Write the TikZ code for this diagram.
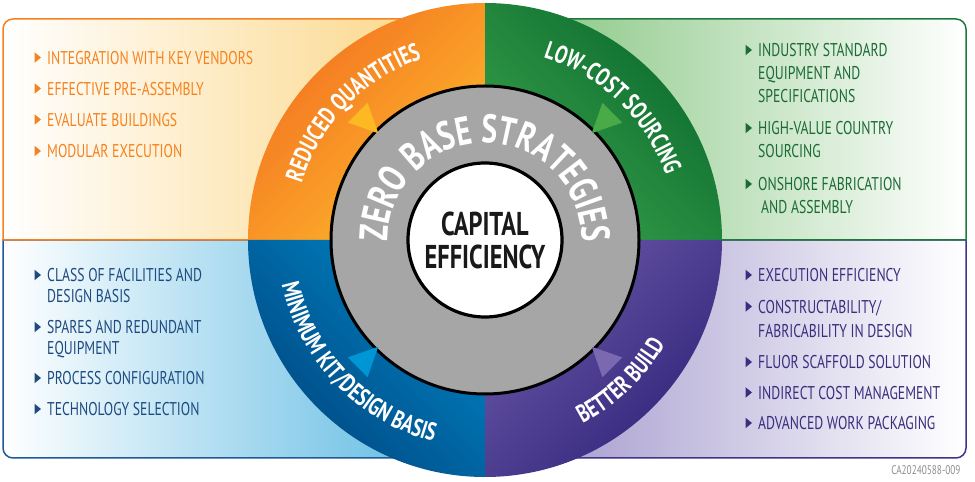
\documentclass[tikz,border=0pt]{standalone}
\usepackage{fontspec}
\setmainfont{PT Sans}[FakeStretch=0.74]
\usepackage{tikz}
\usetikzlibrary{decorations.text}

\definecolor{orangeline}{HTML}{F58220}
\definecolor{orangefill}{HTML}{FBD27A}
\definecolor{greenline}{HTML}{1E7A3C}
\definecolor{greentext}{HTML}{1B6B35}
\definecolor{greenfill}{HTML}{7DC177}
\definecolor{blueline}{HTML}{1F5A97}
\definecolor{bluetext}{HTML}{1D4A80}
\definecolor{bluefill}{HTML}{50B4E0}
\definecolor{purpleline}{HTML}{3F3488}
\definecolor{purpletext}{HTML}{3A2E7E}
\definecolor{purplefill}{HTML}{9A8FC8}
\definecolor{ringgray}{HTML}{A6A6A6}
\definecolor{triyellow}{HTML}{FDB924}
\definecolor{trigreen}{HTML}{4AAA47}
\definecolor{triblue}{HTML}{0096D6}
\definecolor{tripurple}{HTML}{7A68B1}

\newcommand{\listfont}[1]{\fontsize{18.5}{#1}\selectfont}
\newcommand{\ringfont}{\fontsize{25}{28}\selectfont\bfseries}

\begin{document}
\begin{tikzpicture}[
    x=1pt, y=1pt,
    box/.style={line width=1.5pt},
    list node/.style={anchor=north west, inner sep=0pt, align=left},
    ring text/.style={decorate, decoration={text along path, text align=center, text color=white, text={|\ringfont|#1}}}
]
    \useasboundingbox (0,0) rectangle (975,482);
    \coordinate (C) at (485,242);

    % Boxes
    \draw[box, draw=blueline, left color=white, right color=bluefill] (485,242) -- (3,242) -- (3,34) arc[start angle=180, end angle=270, radius=10] -- (485,24) -- cycle;
    \draw[box, draw=purpleline, left color=purplefill, right color=white] (485,242) -- (966,242) -- (966,34) arc[start angle=0, end angle=-90, radius=10] -- (485,24) -- cycle;
    \draw[box, draw=orangeline, left color=white, right color=orangefill] (485,242) -- (3,242) -- (3,453) arc[start angle=180, end angle=90, radius=10] -- (485,463) -- cycle;
    \draw[box, draw=greenline, left color=greenfill, right color=white] (485,242) -- (966,242) -- (966,453) arc[start angle=0, end angle=90, radius=10] -- (485,463) -- cycle;

    % Ring quarters
    \shade[top color={rgb,255:red,243;green,112;blue,33}, bottom color={rgb,255:red,253;green,185;blue,43}, shading angle=45] (C) -- ++(90:237) arc[start angle=90, end angle=180, radius=237] -- cycle;
    \shade[top color={rgb,255:red,11;green,106;blue,46}, bottom color={rgb,255:red,55;green,160;blue,74}, shading angle=-45] (C) -- ++(0:237) arc[start angle=0, end angle=90, radius=237] -- cycle;
    \shade[top color={rgb,255:red,0;green,131;blue,196}, bottom color={rgb,255:red,0;green,70;blue,127}, shading angle=-45] (C) -- ++(180:237) arc[start angle=180, end angle=270, radius=237] -- cycle;
    \shade[top color={rgb,255:red,107;green,88;blue,167}, bottom color={rgb,255:red,47;green,35;blue,121}, shading angle=45] (C) -- ++(270:237) arc[start angle=270, end angle=360, radius=237] -- cycle;

    % Discs
    \draw[line width=3pt, fill=ringgray] (C) circle[radius=154];
    \draw[line width=3.2pt, fill=white] (C) circle[radius=77];

    % Arrow heads
    \foreach \a/\c in {135/triyellow, 45/trigreen, 225/triblue, 315/tripurple}
        \fill[\c, shift={(C)}, rotate=\a] (151,0) -- (180,14) -- (180,-14) -- cycle;

    % Ring labels
    \path[ring text={REDUCED QUANTITIES}] ([shift={(176:192)}]C) arc[start angle=176, end angle=96, radius=192];
    \path[ring text={LOW-COST SOURCING}] ([shift={(86:192)}]C) arc[start angle=86, end angle=6, radius=192];
    \path[ring text={MINIMUM KIT/DESIGN BASIS}] ([shift={(184:208)}]C) arc[start angle=184, end angle=264, radius=208];
    \path[ring text={BETTER BUILD}] ([shift={(274:208)}]C) arc[start angle=274, end angle=354, radius=208];
    \path[decorate, decoration={text along path, text align=center, text color=white, text={|\fontsize{40}{42}\selectfont\bfseries|ZERO BASE STRATEGIES}}] ([shift={(192:97)}]C) arc[start angle=192, end angle=-12, radius=97];

    \node[font=\fontsize{33}{33}\selectfont\bfseries, align=center, text=black!90] (cap) at (C) {CAPITAL\\EFFICIENCY};

    % Reduced quantities
    \node[list node, text=orangeline, font=\listfont{23}] (rq1) at (47,431) {INTEGRATION WITH KEY VENDORS};
    \node[list node, text=orangeline, font=\listfont{23}] (rq2) at (47,400) {EFFECTIVE PRE-ASSEMBLY};
    \node[list node, text=orangeline, font=\listfont{23}] (rq3) at (47,369) {EVALUATE BUILDINGS};
    \node[list node, text=orangeline, font=\listfont{23}] (rq4) at (47,337.5) {MODULAR EXECUTION};

    % Low-cost sourcing
    \node[list node, text=greentext, font=\listfont{23}] (lc1) at (758,438.5) {INDUSTRY STANDARD\\EQUIPMENT AND\\SPECIFICATIONS};
    \node[list node, text=greentext, font=\listfont{23}] (lc2) at (758,360.5) {HIGH-VALUE COUNTRY\\SOURCING};
    \node[list node, text=greentext, font=\listfont{23}] (lc3) at (758,304.5) {ONSHORE FABRICATION\\\hspace*{3pt}AND ASSEMBLY};

    % Minimum kit
    \node[list node, text=bluetext, font=\listfont{20.5}] (mk1) at (47,213.5) {CLASS OF FACILITIES AND\\DESIGN BASIS};
    \node[list node, text=bluetext, font=\listfont{20.5}] (mk2) at (47,161.5) {SPARES AND REDUNDANT\\EQUIPMENT};
    \node[list node, text=bluetext, font=\listfont{20.5}] (mk3) at (47,110.5) {PROCESS CONFIGURATION};
    \node[list node, text=bluetext, font=\listfont{20.5}] (mk4) at (47,79.5) {TECHNOLOGY SELECTION};

    % Better build
    \node[list node, text=purpletext, font=\listfont{24.5}] (bb1) at (758,213.5) {EXECUTION EFFICIENCY};
    \node[list node, text=purpletext, font=\listfont{24.5}] (bb2) at (758,182) {CONSTRUCTABILITY/\\FABRICABILITY IN DESIGN};
    \node[list node, text=purpletext, font=\listfont{24.5}] (bb3) at (758,126.5) {FLUOR SCAFFOLD SOLUTION};
    \node[list node, text=purpletext, font=\listfont{24.5}] (bb4) at (758,96) {INDIRECT COST MANAGEMENT};
    \node[list node, text=purpletext, font=\listfont{24.5}] (bb5) at (758,65.5) {ADVANCED WORK PACKAGING};

    % Bullets
    \foreach \n/\c in {rq1/orangeline, rq2/orangeline, rq3/orangeline, rq4/orangeline,
        lc1/greentext, lc2/greentext, lc3/greentext,
        mk1/bluetext, mk2/bluetext, mk3/bluetext, mk4/bluetext,
        bb1/purpletext, bb2/purpletext, bb3/purpletext, bb4/purpletext, bb5/purpletext}
        \fill[\c] ([shift={(-12.5,-1.2)}]\n.north west) -- ++(0,-10.6) -- ++(6.5,5.3) -- cycle;

    \node[anchor=east, text=black!45, font=\fontsize{12.5}{14}\selectfont] (ref) at (964,12) {CA20240588-009};
\end{tikzpicture}
\end{document}
